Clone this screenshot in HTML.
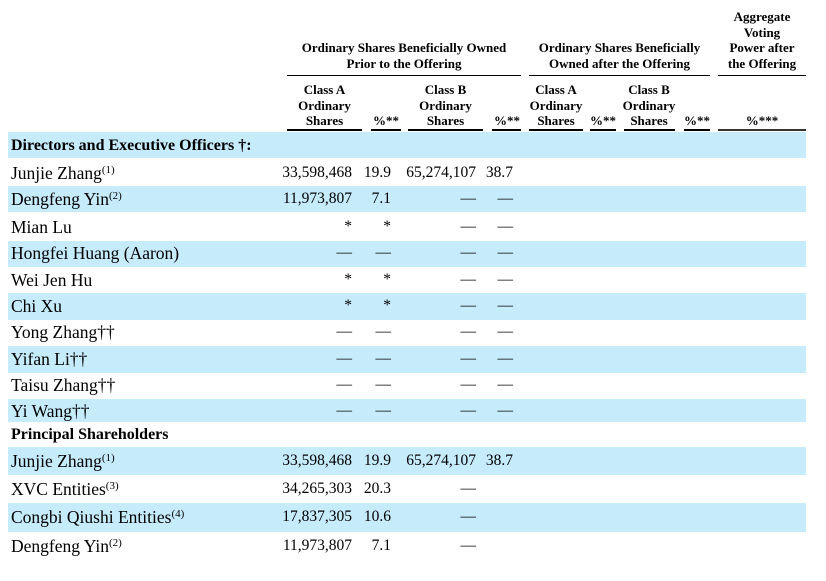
<!DOCTYPE html>
<html><head><meta charset="utf-8"><style>
body{margin:0;width:826px;height:581px;background:#fff;position:relative;overflow:hidden;font-family:"Liberation Serif",serif;color:#000}
.h{position:absolute;font-weight:bold;font-size:13px;line-height:15.5px;text-align:center;white-space:nowrap}
.ln{position:absolute;background:#000}
.band{position:absolute;left:8px;width:798px;background:#c6ecfc}
.t{position:absolute;font-size:15.5px;line-height:18px;white-space:nowrap}
.n{font-size:17.5px;line-height:18px}
.r{text-align:right}
sup{font-size:11px;vertical-align:6px;line-height:0}
</style></head><body>
<div class="h" style="left:277px;width:254px;top:40px">Ordinary Shares Beneficially Owned<br>Prior to the Offering</div>
<div class="h" style="left:519px;width:201px;top:40px">Ordinary Shares Beneficially<br>Owned after the Offering</div>
<div class="h" style="left:712px;width:100px;top:9px">Aggregate<br>Voting<br>Power after<br>the Offering</div>
<div class="ln" style="left:287px;width:234px;top:75px;height:1px"></div>
<div class="ln" style="left:529px;width:181px;top:75px;height:1px"></div>
<div class="ln" style="left:718px;width:88px;top:75px;height:1px"></div>
<div class="h" style="left:282px;width:85px;top:82px">Class A<br>Ordinary<br>Shares</div>
<div class="h" style="left:368px;width:36px;top:113px">%**</div>
<div class="h" style="left:403px;width:85px;top:82px">Class B<br>Ordinary<br>Shares</div>
<div class="h" style="left:489px;width:36px;top:113px">%**</div>
<div class="h" style="left:521px;width:70px;top:82px">Class A<br>Ordinary<br>Shares</div>
<div class="h" style="left:585px;width:36px;top:113px">%**</div>
<div class="h" style="left:614px;width:70px;top:82px">Class B<br>Ordinary<br>Shares</div>
<div class="h" style="left:679px;width:36px;top:113px">%**</div>
<div class="h" style="left:718px;width:88px;top:113px">%***</div>
<div class="ln" style="left:287px;width:75px;top:129px;height:2px"></div>
<div class="ln" style="left:371px;width:30px;top:129px;height:2px"></div>
<div class="ln" style="left:408px;width:75px;top:129px;height:2px"></div>
<div class="ln" style="left:492px;width:29px;top:129px;height:2px"></div>
<div class="ln" style="left:529px;width:54px;top:129px;height:2px"></div>
<div class="ln" style="left:590px;width:26px;top:129px;height:2px"></div>
<div class="ln" style="left:624px;width:51px;top:129px;height:2px"></div>
<div class="ln" style="left:684px;width:26px;top:129px;height:2px"></div>
<div class="ln" style="left:718px;width:88px;top:129px;height:2px;background:#333"></div>

<div class="band" style="top:132px;height:26px"></div>
<div class="band" style="top:186px;height:26px"></div>
<div class="band" style="top:241px;height:26px"></div>
<div class="band" style="top:293px;height:27px"></div>
<div class="band" style="top:346px;height:27px"></div>
<div class="band" style="top:399px;height:23px"></div>
<div class="band" style="top:447px;height:28px"></div>
<div class="band" style="top:503px;height:29px"></div>

<div class="t" style="left:11px;top:137px;font-weight:bold;font-size:16px">Directors and Executive Officers †:</div>
<div class="t" style="left:11px;top:426px;font-weight:bold;font-size:16px">Principal Shareholders</div>

<div id="rows"></div>
<script>
var rows=[
[164,"Junjie Zhang<sup>(1)</sup>","33,598,468","19.9","65,274,107","38.7"],
[190,"Dengfeng Yin<sup>(2)</sup>","11,973,807","7.1","—","—"],
[218,"Mian Lu","*","*","—","—"],
[244,"Hongfei Huang (Aaron)","—","—","—","—"],
[271,"Wei Jen Hu","*","*","—","—"],
[297,"Chi Xu","*","*","—","—"],
[323,"Yong Zhang††","—","—","—","—"],
[350,"Yifan Li††","—","—","—","—"],
[376,"Taisu Zhang††","—","—","—","—"],
[402,"Yi Wang††","—","—","—","—"],
[452,"Junjie Zhang<sup>(1)</sup>","33,598,468","19.9","65,274,107","38.7"],
[480,"XVC Entities<sup>(3)</sup>","34,265,303","20.3","—",""],
[508,"Congbi Qiushi Entities<sup>(4)</sup>","17,837,305","10.6","—",""],
[537,"Dengfeng Yin<sup>(2)</sup>","11,973,807","7.1","—",""]];
var h="";
rows.forEach(function(r){var y=r[0];
h+='<div class="t n" style="left:11px;top:'+y+'px">'+r[1]+'</div>';
var rt=[352,391,476,513];
for(var i=0;i<4;i++){var v=r[i+2];if(!v)continue;
h+='<div class="t r" style="right:'+(826-rt[i])+'px;top:'+y+'px">'+v+'</div>';}
});
document.getElementById("rows").innerHTML=h;
</script>
</body></html>
